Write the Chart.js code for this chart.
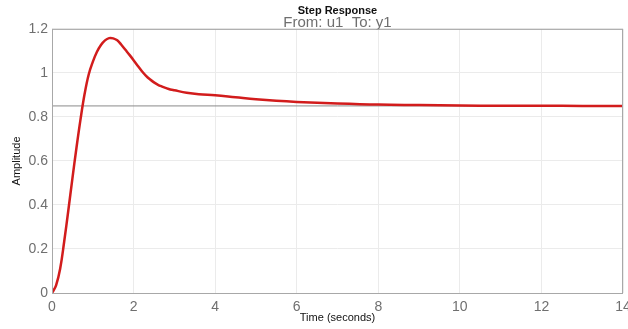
<!DOCTYPE html>
<html>
<head>
<meta charset="utf-8">
<script src="https://cdn.jsdelivr.net/npm/chart.js@4/dist/chart.umd.min.js"></script>
<style>
  html, body { margin: 0; padding: 0; background: #fff; }
  #box { width: 628px; height: 329px; }
</style>
</head>
<body>
<div id="box"><canvas id="stepChart"></canvas></div>
<script>
// step response
var tempo = [0, 0.1, 0.2, 0.3, 0.4, 0.5, 0.6, 0.7, 0.8, 0.9,
             1.0, 1.1, 1.2, 1.3, 1.4, 1.5, 1.6, 1.7, 1.8, 1.9,
             2.0, 2.1, 2.2, 2.3, 2.4, 2.5, 2.6, 2.7, 2.8, 2.9,
             3.0, 3.3, 3.6, 4.0, 4.5, 5, 5.5, 6, 7, 8, 9, 10, 11, 12, 13, 14];
var ampiezza = [0, 0.035, 0.11, 0.235, 0.375, 0.52, 0.66, 0.79, 0.905, 0.993,
                1.05, 1.095, 1.127, 1.148, 1.158, 1.157, 1.148, 1.128, 1.105, 1.082,
                1.058, 1.033, 1.009, 0.988, 0.971, 0.957, 0.946, 0.938, 0.931, 0.925,
                0.921, 0.91, 0.903, 0.898, 0.889, 0.88, 0.873, 0.868, 0.861, 0.856, 0.854, 0.852, 0.851, 0.851, 0.85, 0.85];
var regime = 0.85;
var xTicks = [0, 2, 4, 6, 8, 10, 12, 14];
var yTicks = [0, 0.2, 0.4, 0.6, 0.8, 1, 1.2];

var punti = [];
for (var i = 0; i < tempo.length; i++) {
    punti.push({x: tempo[i], y: ampiezza[i]});
}
var lineaRegime = [{x: xTicks[0], y: regime}, {x: xTicks[xTicks.length - 1], y: regime}];

var font = "'Liberation Sans', Arial, Helvetica, sans-serif";
var grigio = "#6f6f6f";

// full box round the plot, like matlab
var cornice = {
    id: 'cornice',
    afterDraw: function (chart) {
        var a = chart.chartArea, ctx = chart.ctx;
        ctx.save();
        ctx.strokeStyle = "#a8a8a8";
        ctx.lineWidth = 1;
        ctx.strokeRect(a.left + 0.5, a.top + 0.5, a.right - a.left - 1, a.bottom - a.top);
        ctx.restore();
    }
};

var ctx = document.getElementById("stepChart");
var grafico = new Chart(ctx, {
    type: 'line',
    data: {
        datasets: [{
            data: punti,
            borderColor: "#d21c1c",
            borderWidth: 2.5,
            pointRadius: 0,
            tension: 0.4,
            fill: false,
            order: 0
        }, {
            data: lineaRegime,
            borderColor: "#8a8a8a",
            borderWidth: 1,
            pointRadius: 0,
            fill: false,
            order: 1
        }]
    },
    options: {
        responsive: true,
        maintainAspectRatio: false,
        animation: false,
        layout: { padding: { left: 0, right: 5, top: 0, bottom: 0 } },
        plugins: {
            legend: { display: false },
            tooltip: { enabled: false },
            title: {
                display: true,
                text: "Step Response",
                color: "#111",
                fullSize: false,
                font: { family: font, size: 11, weight: 'bold', lineHeight: 1.2 },
                padding: { top: 4, bottom: 0 }
            },
            subtitle: {
                display: true,
                text: "From: u1  To: y1",
                color: grigio,
                fullSize: false,
                font: { family: font, size: 15, lineHeight: 0.78 },
                padding: { top: 0, bottom: 0 }
            }
        },
        scales: {
            x: {
                type: 'linear',
                min: 0,
                max: 14,
                afterBuildTicks: function (scale) {
                    scale.ticks = xTicks.map(function (v) { return {value: v}; });
                },
                afterFit: function (scale) {
                    scale.height = 36;
                    scale.paddingLeft = 0;
                    scale.paddingRight = 0;
                },
                ticks: {
                    color: grigio,
                    padding: 6,
                    maxRotation: 0,
                    font: { family: font, size: 14 },
                    callback: function (v) { return String(v); }
                },
                grid: { color: "#ebebeb", drawTicks: false },
                border: { display: false },
                title: {
                    display: true,
                    text: "Time (seconds)",
                    color: "#111",
                    font: { family: font, size: 11, lineHeight: 1.2 },
                    padding: { top: 0, bottom: 4 }
                }
            },
            y: {
                min: 0,
                max: 1.2,
                afterBuildTicks: function (scale) {
                    scale.ticks = yTicks.map(function (v) { return {value: v}; });
                },
                afterFit: function (scale) {
                    scale.width = 52;
                    scale.paddingTop = 0;
                    scale.paddingBottom = 0;
                },
                ticks: {
                    color: grigio,
                    padding: 4,
                    font: { family: font, size: 14 },
                    callback: function (v) { return String(v); }
                },
                grid: { color: "#ebebeb", drawTicks: false },
                border: { display: false },
                title: {
                    display: true,
                    text: "Amplitude",
                    color: "#111",
                    font: { family: font, size: 11, lineHeight: 1.2 },
                    padding: { top: 10, bottom: 0 }
                }
            }
        }
    },
    plugins: [cornice]
});
</script>
</body>
</html>
